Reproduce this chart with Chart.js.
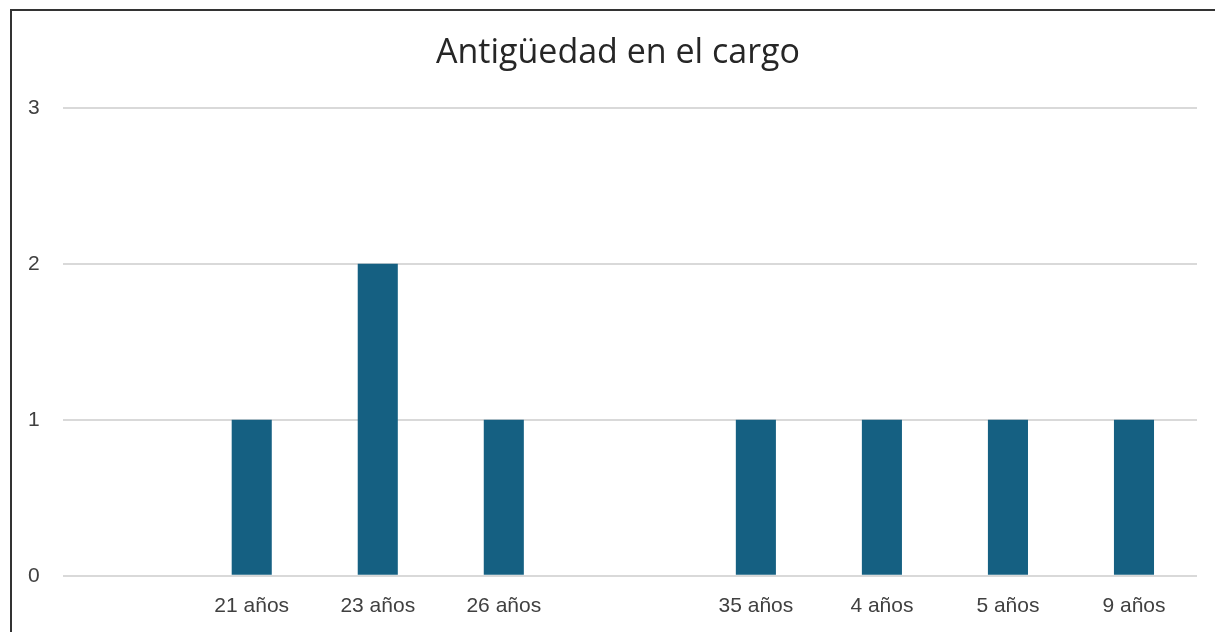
<!DOCTYPE html>
<html>
<head>
<meta charset="utf-8">
<script src="https://cdn.jsdelivr.net/npm/chart.js@4"></script>
<style>
  html, body { margin: 0; padding: 0; background: #fff; overflow: hidden; }
  #marco {
    position: absolute; left: 10px; top: 9px;
    width: 1220px; height: 640px;
    border: 2px solid #333;
    background: #fff;
  }
  #wrap { position: absolute; left: 0; top: 0; width: 1203px; height: 629px; }
</style>
</head>
<body>
<div id="marco">
  <div id="wrap"><canvas id="barChart"></canvas></div>
</div>
<script>
// Datos
const categorias = ["", "21 años", "23 años", "26 años", "", "35 años", "4 años", "5 años", "9 años"];
const valores = [null, 1, 2, 1, null, 1, 1, 1, 1];
const ticksY = [0, 1, 2, 3];

// mover el título un poco a la derecha, como en el original
const moverTitulo = {
    id: 'moverTitulo',
    afterLayout(chart) {
        if (chart.titleBlock) {
            chart.titleBlock.left += 17;
            chart.titleBlock.right += 17;
        }
    }
};

document.addEventListener('DOMContentLoaded', function () {
    const ctx = document.getElementById('barChart').getContext('2d');
    new Chart(ctx, {
        type: 'bar',
        data: {
            labels: categorias,
            datasets: [{
                label: 'Antigüedad en el cargo',
                data: valores,
                backgroundColor: '#156082',
                borderWidth: 0,
                barPercentage: 1,
                categoryPercentage: 0.318
            }]
        },
        plugins: [moverTitulo],
        options: {
            responsive: true,
            maintainAspectRatio: false,
            animation: false,
            layout: { padding: { left: -7, right: 18, top: 8, bottom: 3 } },
            plugins: {
                legend: { display: false },
                tooltip: { enabled: false },
                title: {
                    display: true,
                    text: 'Antigüedad en el cargo',
                    color: '#262626',
                    font: { family: 'Open Sans', size: 34, weight: 'normal' },
                    padding: { top: 14, bottom: 34 }
                }
            },
            scales: {
                x: {
                    grid: { display: false, drawTicks: false },
                    border: { display: false },
                    ticks: {
                        color: '#404040',
                        padding: 18,
                        maxRotation: 0,
                        font: { family: 'Liberation Sans', size: 21 }
                    }
                },
                y: {
                    min: 0,
                    max: 3,
                    afterBuildTicks: function (axis) {
                        axis.ticks = ticksY.map(v => ({ value: v }));
                    },
                    grid: { color: '#d9d9d9', lineWidth: 2, drawTicks: false },
                    border: { display: false },
                    ticks: {
                        color: '#404040',
                        padding: 23,
                        font: { family: 'Liberation Sans', size: 21 }
                    }
                }
            }
        }
    });
});
</script>
</body>
</html>
